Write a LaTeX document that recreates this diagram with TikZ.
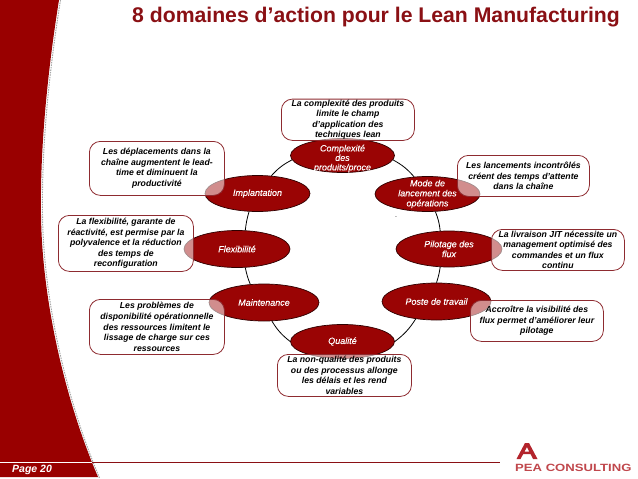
\documentclass[tikz,border=0pt]{standalone}
\usepackage{fontspec}
\usepackage{graphicx}
\setmainfont{Liberation Sans}
\newfontface\domfont[FakeBold=0.25]{Liberation Sans Italic}
\usetikzlibrary{shapes.geometric}
\definecolor{bandred}{HTML}{990000}
\definecolor{ellred}{HTML}{9A0404}
\definecolor{titlered}{HTML}{8A1014}
\definecolor{callline}{HTML}{8E2B30}
\definecolor{logored}{HTML}{C0474C}
\definecolor{logoA}{HTML}{B3242C}
\tikzset{
  dom/.style={ellipse,draw=black!70!bandred,line width=0.7pt,fill=ellred,inner sep=0pt,minimum width=#1*2pt},
  domtext/.style={text=white,font=\fontsize{9}{10}\selectfont\domfont,align=center,inner sep=0pt},
  call/.style={rectangle,rounded corners=11pt,draw=callline,line width=0.8pt,fill=white,fill opacity=0.55,draw opacity=1,inner sep=0pt},
  calltext/.style={text=black,text opacity=1,fill opacity=1,font=\fontsize{8.7}{10.6}\selectfont\itshape\bfseries,align=center,inner sep=0pt},
  link/.style={draw=black,line width=0.8pt},
}
\newcommand{\calloutbox}[6]{% name, x1, y1, x2, y2, text
  \node[call,minimum width=#4pt-#2pt,minimum height=#5pt-#3pt,anchor=north west,
        label={[calltext]center:#6}] (#1) at (#2,#3) {};}
\begin{document}
\begin{tikzpicture}[x=1pt,y=-1pt]
\useasboundingbox (0,0) rectangle (638,479);
% left band
\draw[gray!70,line width=1pt,dash pattern=on 1.5pt off 1pt] (60.5,0) .. controls (48.5,75) and (41.5,150) .. (42.5,215) .. controls (43.5,300) and (66.5,400) .. (99.5,478);
\fill[bandred] (0,0) -- (59,0) .. controls (47,75) and (40,150) .. (41,215) .. controls (42,300) and (65,400) .. (98,477) -- (0,477) -- cycle;
\coordinate (ruleL) at (0,462.5);
\coordinate (ruleM) at (92,462.5);
\coordinate (ruleR) at (500,462.5);
\draw[white,line width=0.8pt] (ruleL) -- (ruleM);
\draw[titlered,line width=0.8pt] (ruleM) -- (ruleR);
\node[text=white,font=\fontsize{10.5}{12}\selectfont\itshape\bfseries,anchor=west,inner sep=0pt] (page) at (12,470) {Page 20};
% title
\node[text=titlered,font=\fontsize{21.2}{24}\selectfont\bfseries,anchor=west,inner sep=0pt] (title) at (132,17) {8 domaines d’action pour le Lean Manufacturing};
% domains
\node[dom=52,minimum height=34pt,label={[domtext,yshift=-3pt,font=\fontsize{9}{9.5}\selectfont\domfont]center:Complexité\\des\\produits/proce}] (cpx) at (342.5,155.5) {};
\node[dom=52.5,minimum height=36pt,label={[domtext]center:Implantation}] (imp) at (257.5,193.5) {};
\node[dom=52.5,minimum height=35pt,label={[domtext]center:Mode de\\lancement des\\opérations}] (mod) at (427.5,194) {};
\node[dom=53,minimum height=36pt,label={[domtext]center:Pilotage des\\flux}] (pil) at (449,249) {};
\node[dom=53,minimum height=37pt,label={[domtext]center:Flexibilité}] (fle) at (237,249) {};
\node[dom=54.5,minimum height=37pt,label={[domtext]center:Poste de travail}] (pos) at (436.5,301.5) {};
\node[dom=55,minimum height=37pt,label={[domtext]center:Maintenance}] (mai) at (264,302.5) {};
\node[dom=52,minimum height=34pt,label={[domtext]center:Qualité}] (qua) at (342.5,341.5) {};
% ring
\draw[link] (imp.52) to[bend left=10] (cpx.185);
\draw[link] (cpx.355) to[bend left=10] (mod.128);
\draw[link] (mod.-66) to[bend left=8] (pil.116);
\draw[link] (pil.244) to[bend left=5] (pos.90);
\draw[link] (pos.220) to[bend left=10] (qua.0);
\draw[link] (qua.180) to[bend left=10] (mai.293);
\draw[link] (mai.127) to[bend left=5] (fle.-66);
\draw[link] (fle.66) to[bend left=5] (imp.245);
% callouts
\calloutbox{c1}{281}{98.7}{414}{140}{La complexité des produits\\limite le champ\\d’application des\\techniques lean}
\calloutbox{c2}{89}{141}{224}{195}{Les déplacements dans la\\chaîne augmentent le lead-\\time et diminuent la\\productivité}
\calloutbox{c3}{457}{155}{589}{196}{Les lancements incontrôlés\\créent des temps d’attente\\dans la chaîne}
\calloutbox{c4}{491}{229}{624}{270}{La livraison JIT nécessite un\\management optimisé des\\commandes et un flux\\continu}
\calloutbox{c5}{58}{215}{193}{271}{La flexibilité, garante de\\réactivité, est permise par la\\polyvalence et la réduction\\des temps de\\reconfiguration}
\calloutbox{c6}{470}{300}{603}{341}{Accroître la visibilité des\\flux permet d’améliorer leur\\pilotage}
\calloutbox{c7}{89}{299}{224}{354}{Les problèmes de\\disponibilité opérationnelle\\des ressources limitent le\\lissage de charge sur ces\\ressources}
\calloutbox{c8}{277}{354}{411}{396}{La non-qualité des produits\\ou des processus allonge\\les délais et les rend\\variables}
\node[font=\fontsize{7}{8}\selectfont,inner sep=0pt] (dot) at (396,217) {.};
% logo
\fill[logoA] (516.5,459) -- (525,443) -- (529,443) -- (537.5,459) -- (533,459) -- (530.5,454) -- (521,454) -- (521.5,451.5) -- (529.2,451.5) -- (527,447) -- (520.5,459) -- cycle;
\node[text=logored,font=\fontsize{10.5}{12}\selectfont\bfseries,anchor=west,inner sep=0pt] (logo) at (515,467.5) {\scalebox{1.248}[1]{PEA CONSULTING}};
\end{tikzpicture}
\end{document}
